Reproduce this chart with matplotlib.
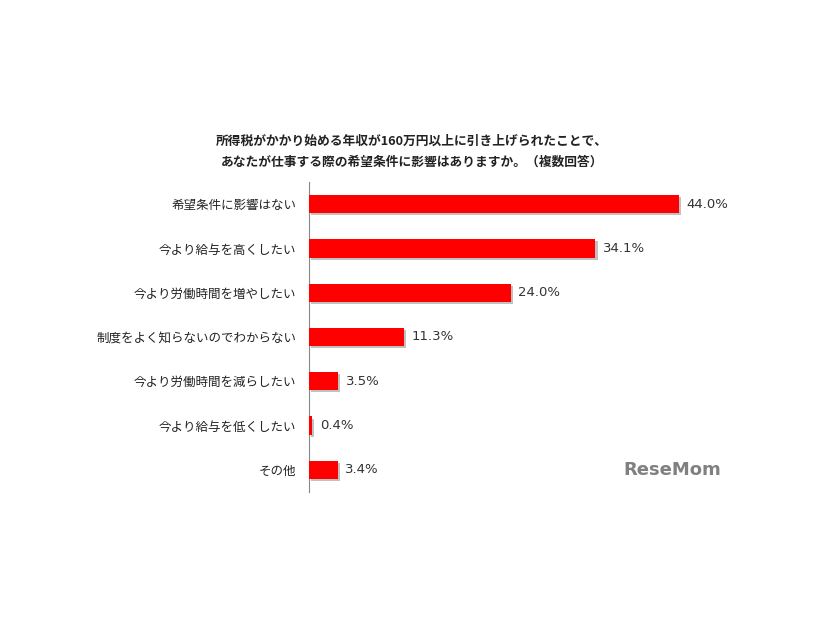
import numpy as np
import matplotlib.pyplot as plt
import matplotlib.patheffects as pe

plt.rcParams['font.family'] = ['Noto Sans CJK JP', 'DejaVu Sans']

# data
categories = ['希望条件に影響はない', '今より給与を高くしたい', '今より労働時間を増やしたい',
              '制度をよく知らないのでわからない', '今より労働時間を減らしたい',
              '今より給与を低くしたい', 'その他']
values = [44.0, 34.1, 24.0, 11.3, 3.5, 0.4, 3.4]
title = ('所得税がかかり始める年収が160万円以上に引き上げられたことで、\n'
         'あなたが仕事する際の希望条件に影響はありますか。（複数回答）')

fig = plt.figure(figsize=(8.26, 6.2), dpi=100)
ax = fig.add_axes([309 / 826, 1 - 492 / 620, 420 / 826, 310 / 620])

y = np.arange(len(categories))
bars = ax.barh(y, values, height=0.41, color='#ff0000', edgecolor='none', zorder=3)
for b in bars:
    b.set_path_effects([pe.SimplePatchShadow(offset=(1.5, -1.5), shadow_rgbFace='#999999', alpha=0.6),
                        pe.Normal()])

for yi, v in zip(y, values):
    ax.text(v + 0.9, yi, f'{v:.1f}%', va='center', ha='left', fontsize=9.5, color='#333333',
            family='DejaVu Sans')

ax.set_xlim(0, 50)
ax.set_ylim(len(categories) - 0.5, -0.5)
ax.set_yticks(y)
ax.set_yticklabels(categories, fontsize=9, color='#222222')
ax.tick_params(axis='y', length=0, pad=9)
ax.set_xticks([])
for s in ['top', 'right', 'bottom']:
    ax.spines[s].set_visible(False)
ax.spines['left'].set_color('#888888')
ax.spines['left'].set_linewidth(0.8)

fig.text(412 / 826, 1 - 152 / 620, title, ha='center', va='center', fontsize=9.2,
         fontweight='bold', linespacing=1.75, color='#222222')

fig.text(672 / 826, 1 - 470 / 620, 'ReseMom', ha='center', va='center', fontsize=13,
         fontweight='bold', color='#808080', family='DejaVu Sans')

fig.savefig('out.png', dpi=100)
